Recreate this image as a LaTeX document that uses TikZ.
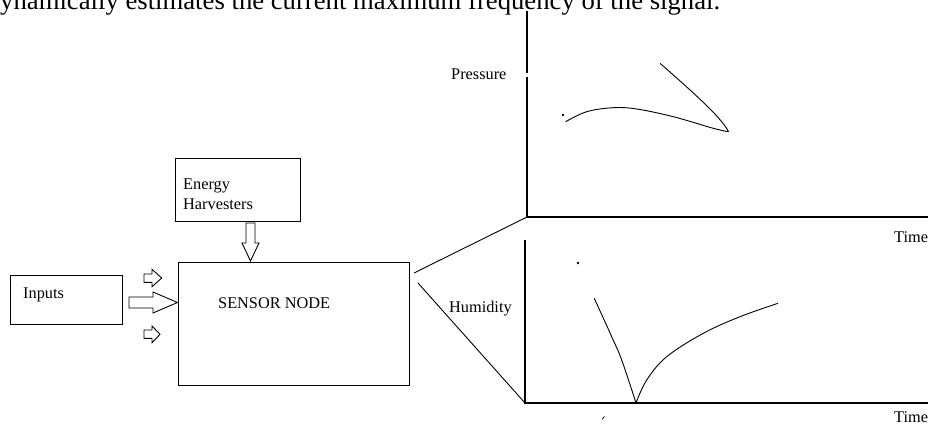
\documentclass[tikz,border=0pt]{standalone}
\usepackage{fontspec}
\setmainfont{Liberation Serif}
\usetikzlibrary{calc}
\begin{document}
\begin{tikzpicture}[x=1pt,y=-1pt,
  boxnode/.style={draw=black,line width=1pt,inner sep=0pt,anchor=north west},
  lbl/.style={inner sep=0pt,anchor=base west,font=\fontsize{16.3}{20}\selectfont},
  hollow/.style={draw=black,line width=0.9pt,fill=white,line join=miter},
  axis/.style={draw=black,line width=1.2pt},
  link/.style={draw=black,line width=0.9pt},
  curve/.style={draw=black,line width=0.9pt}]
\useasboundingbox (0,0) rectangle (928,426);
\clip (0,0) rectangle (928,426);
% heading
\node[inner sep=0pt,anchor=base west,font=\fontsize{26.7}{32}\selectfont] (head) at (0,9.5) {ynamically estimates the current maximum frequency of the signal.};
% boxes
\node[boxnode,minimum width=125pt,minimum height=63pt] (energy) at (175,158) {};
\node[lbl] (energyt) at (183,189) {Energy};
\node[lbl] (harvt) at (183,209) {Harvesters};
\node[boxnode,minimum width=231pt,minimum height=123pt] (sensor) at (178,262) {};
\node[lbl] (sensort) at (218,308) {SENSOR NODE};
\node[boxnode,minimum width=112pt,minimum height=49pt] (inputs) at (10,275) {};
\node[lbl] (inputst) at (23,298) {Inputs};
% hollow arrows
\draw[hollow] (246,223) -- (255,223) -- (255,243) -- (259,243) -- (250.5,261) -- (242,243) -- (246,243) -- cycle;
\draw[hollow] (129,297) -- (153,297) -- (153,292) -- (177.5,302.5) -- (153,313) -- (153,308) -- (129,308) -- cycle;
\draw[hollow] (144,274) -- (152,274) -- (152,269.3) -- (161.7,278) -- (152,286.7) -- (152,282.3) -- (144,282.3) -- cycle;
\draw[hollow] (144,330) -- (152,330) -- (152,326) -- (160,334.3) -- (152,342.7) -- (152,338.3) -- (144,338.3) -- cycle;
% axes
\coordinate (porig) at (527,217);
\coordinate (horig) at (525,403);
\draw[axis] (527,11) -- (527,73);
\draw[axis] (527,77) -- (porig) -- (928,217);
\draw[axis] (525,240) -- (horig) -- (928,403);
\node[lbl] (pres) at (451,79) {Pressure};
\node[lbl] (humi) at (449,312) {Humidity};
\node[lbl] (time1) at (894,242) {Time};
\node[lbl] (time2) at (894,422) {Time};
% links from sensor node
\draw[link] ($(sensor.north east)+(4,11)$) -- (porig);
\draw[link] ($(sensor.north east)+(8,21)$) -- (horig);
% pressure curve
\fill (563,115) circle (1.3);
\draw[curve] plot[smooth,tension=0.6] coordinates {(565.7,121.7) (586.7,111.7) (613.3,107.7) (636.7,109) (673.3,116.7) (713.3,128.3) (728.5,131.7)};
\draw[curve] (728.5,131.7) .. controls (722,119) and (702,100) .. (660,63.3);
% humidity curves
\fill (578,263) circle (1.3);
\draw[curve] plot[smooth,tension=0.6] coordinates {(594.3,298.3) (611.7,336.7) (621.7,360) (636,403)};
\draw[curve] plot[smooth,tension=0.6] coordinates {(636,403) (646.7,380) (666.7,356.7) (703.3,333.3) (740,316.7) (778,303.3)};
\draw[curve,line width=0.7pt] (602,419.5) -- (604.5,416.5);
\end{tikzpicture}
\end{document}
